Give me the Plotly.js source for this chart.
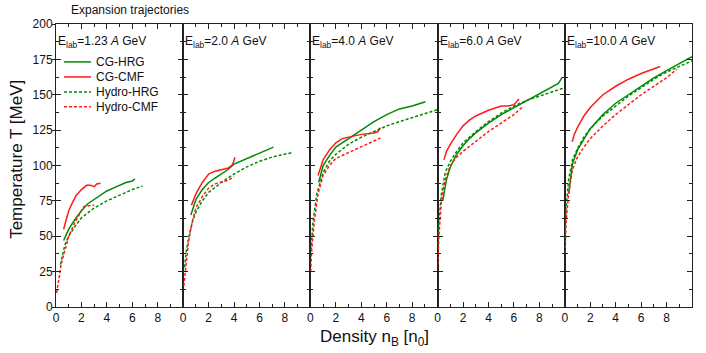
<!DOCTYPE html>
<html>
<head>
<meta charset="utf-8">
<script src="https://cdn.plot.ly/plotly-3.0.1.min.js"></script>
<style>html,body{margin:0;padding:0;background:#fff;}#chart{width:706px;height:353px;}</style>
</head>
<body>
<div id="chart"></div>
<script>
// Panel labels (beam energies)
const energies = ["1.23", "2.0", "4.0", "6.0", "10.0"];
const seriesNames = ["CG-HRG", "CG-CMF", "Hydro-HRG", "Hydro-CMF"];
const xTickVals = [0, 2, 4, 6, 8];

// CG-HRG (green solid) per panel: density n_B [n0], temperature T [MeV]
const cgHrgN = [
  [0.6, 0.8, 1.0, 1.5, 2.0, 2.5, 3.0, 3.5, 4.0, 4.5, 5.0, 5.5, 6.0, 6.2],
  [0.6, 0.8, 1.0, 1.5, 2.0, 2.5, 3.0, 3.5, 4.0, 4.5, 5.0, 5.5, 6.0, 6.5, 7.1],
  [0.65, 0.8, 1.0, 1.5, 2.0, 2.5, 3.0, 3.5, 4.0, 5.0, 6.0, 7.0, 8.0, 9.05],
  [0.4, 0.55, 0.7, 1.0, 1.5, 2.0, 2.5, 3.0, 4.0, 5.0, 6.0, 7.0, 8.0, 9.0, 9.5, 9.8],
  [0.3, 0.45, 0.6, 1.0, 1.5, 2.0, 3.0, 4.0, 5.0, 6.0, 7.0, 8.0, 9.0, 10.0]
];
const cgHrgT = [
  [47, 51, 55, 62, 68, 73, 76, 79, 82, 84, 86, 88, 89, 90.5],
  [65, 71, 76, 83, 88, 91, 94, 97, 101, 103, 105, 107, 109, 111, 113],
  [88, 94, 100, 107, 113, 116, 119, 122, 125, 131, 136, 140, 142, 145],
  [75, 84, 90, 99, 108, 114, 119, 123, 130, 136, 141, 146, 151, 156, 158, 162.5],
  [80, 93, 101, 111, 119, 126, 136, 144, 150, 156, 162, 167, 172, 177]
];

// CG-CMF (red solid)
const cgCmfN = [
  [0.6, 0.8, 1.0, 1.3, 1.6, 2.0, 2.4, 2.7, 3.0, 3.2, 3.5],
  [0.65, 0.8, 1.0, 1.5, 2.0, 2.5, 3.0, 3.5, 3.8, 3.9, 4.07],
  [0.6, 0.8, 1.0, 1.5, 2.0, 2.5, 3.0, 4.0, 5.0, 5.3, 5.5],
  [0.5, 0.7, 1.0, 1.5, 2.0, 2.5, 3.0, 4.0, 5.0, 5.5, 6.0, 6.4],
  [0.58, 0.75, 1.0, 1.5, 2.0, 3.0, 4.0, 5.0, 6.0, 7.0, 7.5]
];
const cgCmfT = [
  [55, 62, 68, 74, 79, 83, 86, 86, 85, 87, 87.5],
  [72, 76, 80, 88, 94, 96, 97, 98, 100, 101, 105.8],
  [93, 99, 104, 111, 116, 119, 120, 122, 123, 124, 126.7],
  [104, 110, 115, 122, 128, 132, 135, 139, 142, 142, 143, 147],
  [116.8, 122, 127, 135, 141, 150, 156, 161, 165, 168, 170]
];

// Hydro-HRG (green dashed)
const hyHrgN = [
  [0.35, 0.5, 0.7, 1.0, 1.5, 2.0, 3.0, 4.0, 5.0, 6.0, 6.8],
  [0.1, 0.25, 0.5, 0.75, 1.0, 1.5, 2.0, 3.0, 4.0, 5.0, 6.0, 7.0, 8.5],
  [0.05, 0.2, 0.5, 1.0, 1.5, 2.0, 3.0, 4.0, 5.0, 6.0, 7.0, 8.0, 9.0, 10.0],
  [0.02, 0.1, 0.3, 0.6, 1.0, 1.5, 2.0, 3.0, 4.0, 5.0, 6.0, 7.0, 8.0, 9.0, 10.0],
  [0.02, 0.1, 0.3, 0.6, 1.0, 1.5, 2.0, 3.0, 4.0, 5.0, 6.0, 7.0, 8.0, 9.0, 10.0]
];
const hyHrgT = [
  [30, 37, 44, 50, 57, 63, 70, 75, 79, 83, 85.5],
  [28, 40, 52, 61, 67, 75, 81, 88, 94, 99, 103, 106, 109],
  [40, 60, 80, 95, 103, 108, 115, 120, 124, 128, 131, 134, 137, 139.5],
  [40, 60, 80, 95, 103, 110, 116, 124, 131, 137, 142, 146, 149, 152, 155],
  [50, 70, 90, 104, 112, 120, 126, 135, 142, 149, 155, 161, 166, 170, 174]
];

// Hydro-CMF (red dashed)
const hyCmfN = [
  [0.05, 0.2, 0.4, 0.7, 1.0, 1.5, 2.0, 2.2, 2.6, 3.0],
  [0.05, 0.2, 0.4, 0.7, 1.0, 1.5, 2.0, 2.5, 3.0, 3.5, 4.0],
  [0.02, 0.1, 0.3, 0.6, 1.0, 1.5, 2.0, 3.0, 4.0, 5.0, 5.5],
  [0.02, 0.1, 0.3, 0.6, 1.0, 1.5, 2.0, 3.0, 4.0, 5.0, 6.0, 6.7],
  [0.02, 0.1, 0.3, 0.6, 1.0, 1.5, 2.0, 3.0, 4.0, 5.0, 6.0, 7.0, 8.0, 8.8]
];
const hyCmfT = [
  [10, 20, 30, 40, 50, 60, 68, 71, 71.5, 72],
  [15, 30, 45, 60, 70, 78, 84, 87, 88, 89.5, 92],
  [25, 40, 60, 80, 93, 100, 105, 109, 113, 117, 119.4],
  [30, 50, 75, 90, 100, 106, 110, 117, 124, 130, 136, 141.6],
  [38, 60, 80, 97, 106, 113, 119, 128, 136, 143, 150, 156, 162, 168]
];

const GREEN = "#008a00";
const RED = "#ff1a1a";
const styles = [
  {color: GREEN, dash: "solid"},
  {color: RED, dash: "solid"},
  {color: GREEN, dash: "3px,2px"},
  {color: RED, dash: "3px,2px"}
];
const xs = [cgHrgN, cgCmfN, hyHrgN, hyCmfN];
const ys = [cgHrgT, cgCmfT, hyHrgT, hyCmfT];

const traces = [];
for (let s = 0; s < 4; s++) {
  for (let p = 0; p < 5; p++) {
    traces.push({
      x: xs[s][p], y: ys[s][p],
      type: "scatter", mode: "lines",
      name: seriesNames[s],
      showlegend: false,
      xaxis: p === 0 ? "x" : "x" + (p + 1),
      yaxis: p === 0 ? "y" : "y" + (p + 1),
      line: {color: styles[s].color, dash: styles[s].dash, width: 1.5}
    });
  }
}

const FONT = "Liberation Sans, Arial, sans-serif";
const AX = "#222";
const layout = {
  width: 706, height: 353,
  margin: {l: 56, r: 14, t: 24, b: 46},
  paper_bgcolor: "#fff", plot_bgcolor: "#fff",
  font: {family: FONT, size: 12, color: "#111"},
  showlegend: false,
  annotations: [],
  shapes: []
};

for (let p = 0; p < 5; p++) {
  const xa = p === 0 ? "xaxis" : "xaxis" + (p + 1);
  const ya = p === 0 ? "yaxis" : "yaxis" + (p + 1);
  const xid = p === 0 ? "x" : "x" + (p + 1);
  const yid = p === 0 ? "y" : "y" + (p + 1);
  layout[xa] = {
    domain: [p * 0.2, (p + 1) * 0.2], anchor: yid,
    range: [0, 10], tickvals: xTickVals, ticks: "inside", ticklen: 5, tickwidth: 1, tickcolor: AX,
    minor: {dtick: 1, ticks: "inside", ticklen: 3, tickcolor: AX, showgrid: false},
    showline: true, linecolor: AX, linewidth: 1, mirror: "ticks",
    showgrid: false, zeroline: false, fixedrange: true,
    tickfont: {family: FONT, size: 12, color: "#111"}
  };
  layout[ya] = {
    domain: [0, 1], anchor: xid,
    range: [0, 200], dtick: 25, ticks: "inside", ticklen: 5, tickwidth: 1, tickcolor: AX,
    minor: {dtick: 12.5, ticks: "inside", ticklen: 3, tickcolor: AX, showgrid: false},
    showline: true, linecolor: AX, linewidth: 1, mirror: "ticks",
    showgrid: false, zeroline: false, fixedrange: true,
    showticklabels: p === 0,
    tickfont: {family: FONT, size: 12, color: "#111"}
  };
  if (p > 0) layout[ya].matches = "y";
  layout.annotations.push({
    xref: xid + " domain", yref: "paper", x: 0.0, y: 0.935, xanchor: "left", yanchor: "middle",
    text: "E<sub>lab</sub>=" + energies[p] + " <i>A</i> GeV", showarrow: false,
    font: {family: FONT, size: 12, color: "#111"}
  });
}
// outside halves of the leftmost y ticks
layout.yaxis6 = {
  overlaying: "y", anchor: "x", side: "left", range: [0, 200], dtick: 25,
  ticks: "outside", ticklen: 3, tickcolor: AX, showticklabels: false, showline: false,
  showgrid: false, zeroline: false, fixedrange: true
};
traces.push({x: [], y: [], xaxis: "x", yaxis: "y6", type: "scatter", showlegend: false, hoverinfo: "skip"});

// legend (drawn in the first panel)
const legRowY = [0.866, 0.813, 0.760, 0.708];
for (let s = 0; s < 4; s++) {
  layout.shapes.push({
    type: "line", xref: "paper", yref: "paper", x0: 0.0126, x1: 0.055, y0: legRowY[s], y1: legRowY[s],
    line: {color: styles[s].color, dash: styles[s].dash, width: 1.5}
  });
  layout.annotations.push({
    xref: "paper", yref: "paper", x: 0.0605, y: legRowY[s], xanchor: "left", yanchor: "middle",
    text: seriesNames[s], showarrow: false, font: {family: FONT, size: 12, color: "#111"}
  });
}

layout.annotations.push(
  {xref: "paper", yref: "paper", x: 0.02, y: 1.0, yshift: 14, xanchor: "left", yanchor: "middle",
   text: "Expansion trajectories", showarrow: false, font: {family: FONT, size: 12, color: "#111"}},
  {xref: "paper", yref: "paper", x: 0.5, y: 0, yshift: -31, xanchor: "center", yanchor: "middle",
   text: "Density n<sub>B</sub> [n<sub>0</sub>]", showarrow: false, font: {family: FONT, size: 17, color: "#111"}},
  {xref: "paper", yref: "paper", x: 0, xshift: -39, y: 0.52, xanchor: "center", yanchor: "middle", textangle: -90,
   text: "Temperature T [MeV]", showarrow: false, font: {family: FONT, size: 17, color: "#111"}}
);

Plotly.newPlot("chart", traces, layout, {staticPlot: true, displayModeBar: false});
</script>
</body>
</html>
